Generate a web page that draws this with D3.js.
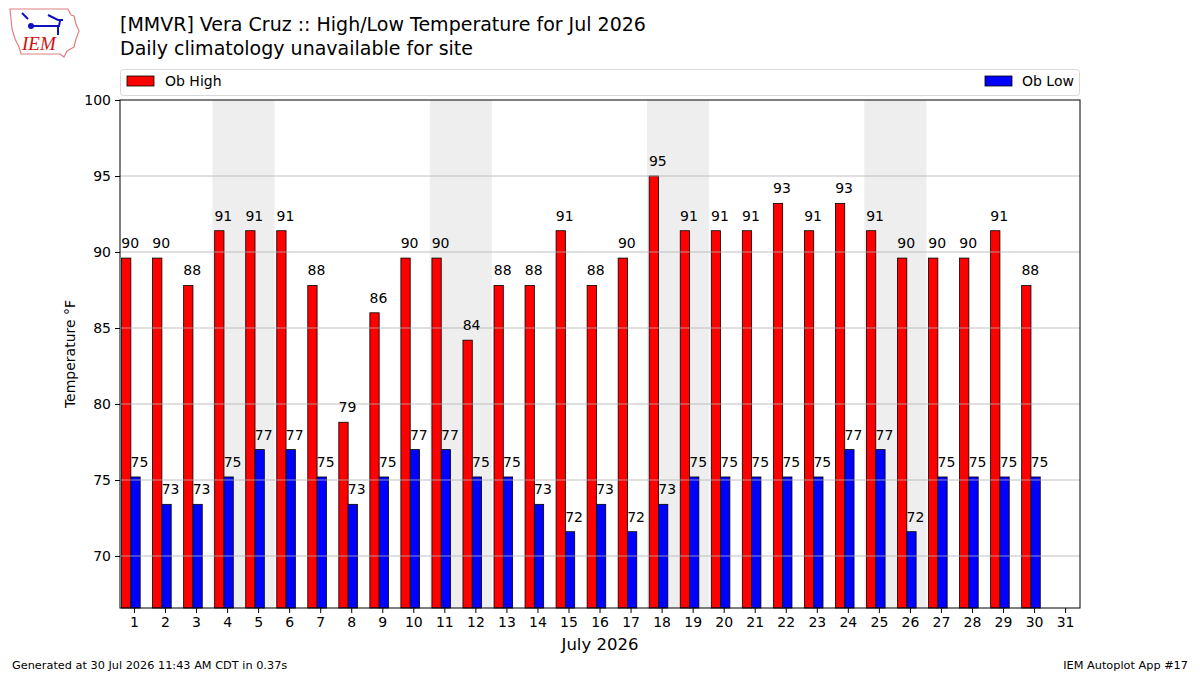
<!DOCTYPE html>
<html>
<head>
<meta charset="utf-8">
<script src="https://cdn.jsdelivr.net/npm/d3@7"></script>
<style>
  body { margin: 0; background: #fff; }
  svg { font-family: "DejaVu Sans", sans-serif; }
</style>
</head>
<body>
<svg id="chart" width="1200" height="675"></svg>
<script>
// daily observed values, degF
const days = d3.range(1, 31);
const obHigh = [89.6, 89.6, 87.8, 91.4, 91.4, 91.4, 87.8, 78.8, 86.0, 89.6,
  89.6, 84.2, 87.8, 87.8, 91.4, 87.8, 89.6, 95.0, 91.4, 91.4,
  91.4, 93.2, 91.4, 93.2, 91.4, 89.6, 89.6, 89.6, 91.4, 87.8];
const obLow = [75.2, 73.4, 73.4, 75.2, 77.0, 77.0, 75.2, 73.4, 75.2, 77.0,
  77.0, 75.2, 75.2, 73.4, 71.6, 73.4, 71.6, 73.4, 75.2, 75.2,
  75.2, 75.2, 75.2, 77.0, 77.0, 71.6, 75.2, 75.2, 75.2, 75.2];
const weekendStarts = [4, 11, 18, 25];
const xTicks = d3.range(1, 32);
const yTicks = [70, 75, 80, 85, 90, 95, 100];

const svg = d3.select('#chart');
const margin = { left: 120, right: 1080, top: 100, bottom: 608 };

const x = d3.scaleLinear().domain([0.55, 31.48]).range([margin.left, margin.right]);
const y = d3.scaleLinear().domain([66.58, 100]).range([margin.bottom, margin.top]);
const dayW = x(1) - x(0);

// logo
const logo = svg.append('g');
logo.append('path')
  .attr('d', 'M10,9 L68,9 L71,15 L74,16 L76,24 L79,31 L76,39 L74,47 L67,51 L64,57 L60,54 L21,54 L19,47 L15,39 L12,29 Z')
  .attr('fill', 'none').attr('stroke', '#e08080').attr('stroke-width', 1.2);
logo.append('path').attr('d', 'M22,13 L28,19 M31,26 L59,26 L60,21 M48,15 L58,20 L63,20 M58,26 L58,35')
  .attr('stroke', '#1010c0').attr('stroke-width', 2).attr('fill', 'none');
logo.append('circle').attr('cx', 31).attr('cy', 26).attr('r', 3).attr('fill', '#1010c0');
logo.append('text').attr('x', 22).attr('y', 50)
  .attr('font-family', 'Liberation Serif, serif').attr('font-style', 'italic')
  .attr('font-size', 19).attr('fill', '#d01010').text('IEM');

// titles
svg.append('text').attr('x', 120).attr('y', 31).attr('font-size', 19)
  .text('[MMVR] Vera Cruz :: High/Low Temperature for Jul 2026');
svg.append('text').attr('x', 120).attr('y', 55).attr('font-size', 19)
  .text('Daily climatology unavailable for site');

// legend
svg.append('rect').attr('x', 120.5).attr('y', 69.5).attr('width', 959).attr('height', 26)
  .attr('rx', 3).attr('fill', '#fff').attr('stroke', '#d8d8d8');
svg.append('rect').attr('x', 127).attr('y', 76).attr('width', 27).attr('height', 10)
  .attr('fill', 'red').attr('stroke', '#000').attr('stroke-width', 0.8);
svg.append('text').attr('x', 165).attr('y', 86).attr('font-size', 14).text('Ob High');
svg.append('rect').attr('x', 985).attr('y', 76).attr('width', 27).attr('height', 10)
  .attr('fill', 'blue').attr('stroke', '#000').attr('stroke-width', 0.8);
svg.append('text').attr('x', 1022).attr('y', 86).attr('font-size', 14).text('Ob Low');

// weekend shading
svg.append('g').selectAll('rect').data(weekendStarts).join('rect')
  .attr('x', d => x(d - 0.47)).attr('width', 2 * dayW)
  .attr('y', margin.top).attr('height', margin.bottom - margin.top)
  .attr('fill', '#eeeeee');

// bars
const barW = 0.3;
const bars = svg.append('g');
bars.selectAll('rect.hi').data(days).join('rect').attr('class', 'hi')
  .attr('x', d => x(d - 0.4)).attr('width', barW * dayW)
  .attr('y', (d, i) => y(obHigh[i])).attr('height', (d, i) => margin.bottom - y(obHigh[i]))
  .attr('fill', 'red').attr('stroke', '#000').attr('stroke-width', 0.8);
bars.selectAll('rect.lo').data(days).join('rect').attr('class', 'lo')
  .attr('x', d => x(d - 0.1)).attr('width', barW * dayW)
  .attr('y', (d, i) => y(obLow[i])).attr('height', (d, i) => margin.bottom - y(obLow[i]))
  .attr('fill', 'blue').attr('stroke', '#000').attr('stroke-width', 0.8);

// grid
svg.append('g').selectAll('line').data(yTicks.slice(0, -1)).join('line')
  .attr('x1', margin.left).attr('x2', margin.right)
  .attr('y1', d => y(d)).attr('y2', d => y(d))
  .attr('stroke', '#b0b0b0').attr('stroke-width', 0.8);

// value labels
const labels = svg.append('g').attr('font-size', 14).attr('text-anchor', 'middle');
labels.selectAll('text.hi').data(days).join('text').attr('class', 'hi')
  .attr('x', d => x(d - 0.25) + 4).attr('y', (d, i) => y(obHigh[i]) - 10)
  .text((d, i) => Math.round(obHigh[i]));
labels.selectAll('text.lo').data(days).join('text').attr('class', 'lo')
  .attr('x', d => x(d + 0.05) + 4).attr('y', (d, i) => y(obLow[i]) - 10)
  .text((d, i) => Math.round(obLow[i]));

// frame
svg.append('rect').attr('x', margin.left).attr('y', margin.top)
  .attr('width', margin.right - margin.left).attr('height', margin.bottom - margin.top)
  .attr('fill', 'none').attr('stroke', '#000').attr('stroke-width', 1);

// axes
const xAxis = svg.append('g').attr('transform', `translate(0,${margin.bottom})`)
  .call(d3.axisBottom(x).tickValues(xTicks).tickFormat(d3.format('d')).tickSizeInner(5).tickSizeOuter(0).tickPadding(4));
xAxis.select('.domain').remove();
xAxis.selectAll('text').attr('font-size', 14).attr('font-family', 'DejaVu Sans');

const yAxis = svg.append('g').attr('transform', `translate(${margin.left},0)`)
  .call(d3.axisLeft(y).tickValues(yTicks).tickFormat(d3.format('d')).tickSizeInner(5).tickSizeOuter(0).tickPadding(4));
yAxis.select('.domain').remove();
yAxis.selectAll('text').attr('font-size', 14).attr('font-family', 'DejaVu Sans');

svg.append('text').attr('x', 600).attr('y', 650).attr('text-anchor', 'middle')
  .attr('font-size', 16.5).text('July 2026');
svg.append('text').attr('transform', 'translate(75,354) rotate(-90)').attr('text-anchor', 'middle')
  .attr('font-size', 14).text('Temperature °F');

// footer
svg.append('text').attr('x', 12).attr('y', 669).attr('font-size', 11.3)
  .text('Generated at 30 Jul 2026 11:43 AM CDT in 0.37s');
svg.append('text').attr('x', 1188).attr('y', 669).attr('font-size', 11.3).attr('text-anchor', 'end')
  .text('IEM Autoplot App #17');
</script>
</body>
</html>
